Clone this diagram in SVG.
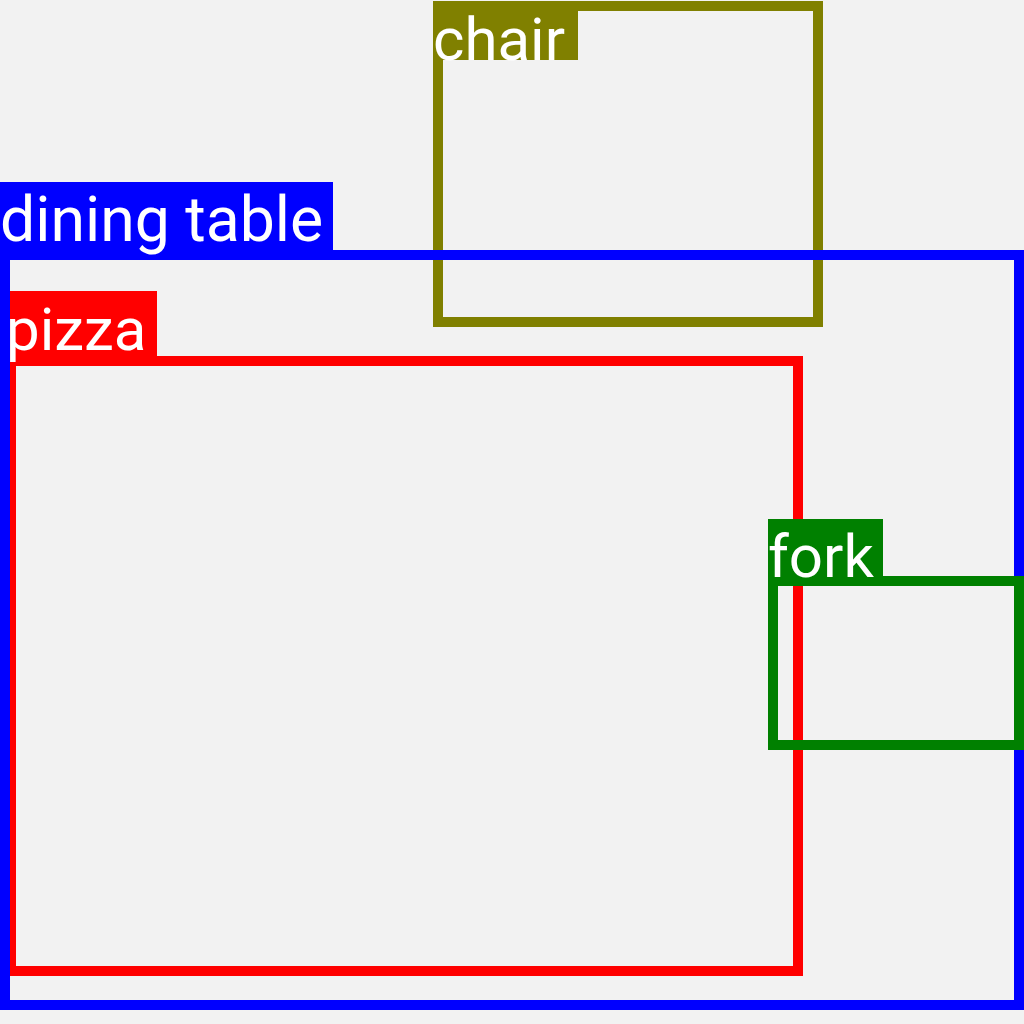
<svg xmlns="http://www.w3.org/2000/svg" width="1024" height="1024" viewBox="0 0 1024 1024">
<style>
.box{fill:none;stroke-width:10}
.lbl{font-family:Roboto,"Liberation Sans",sans-serif;font-size:60px;fill:#FFFFFF}
</style>
<rect x="0" y="0" width="1024" height="1024" fill="#F2F2F2"/>
<g id="chair">
<rect class="box" x="438" y="6" width="380" height="316" stroke="#808000"/>
<rect x="433" y="1" width="145" height="59" fill="#808000"/>
<text class="lbl" x="433" y="60">chair</text>
</g>
<g id="pizza">
<rect class="box" x="11" y="361" width="787" height="610" stroke="#FF0000"/>
<rect x="6" y="291" width="151" height="66" fill="#FF0000"/>
<text class="lbl" x="6" y="350">pizza</text>
</g>
<g id="dining_table">
<rect class="box" x="5" y="255" width="1014" height="750" stroke="#0000FF"/>
<rect x="0" y="182" width="333" height="69" fill="#0000FF"/>
<text class="lbl" x="0" y="241" style="font-size:62.5px">dining table</text>
</g>
<g id="fork">
<rect class="box" x="773" y="581" width="246" height="164" stroke="#008000"/>
<rect x="768" y="519" width="115" height="58" fill="#008000"/>
<text class="lbl" x="768" y="577">fork</text>
</g>
<g id="connectors"></g>
</svg>
